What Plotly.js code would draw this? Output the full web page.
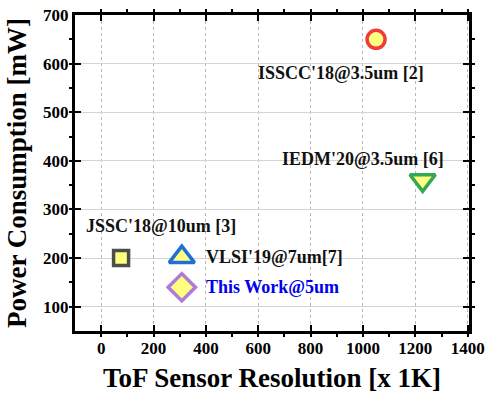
<!DOCTYPE html>
<html>
<head>
<meta charset="utf-8">
<script src="https://cdn.plot.ly/plotly-3.0.1.min.js"></script>
<style>html,body{margin:0;padding:0;background:#fff}#chart{width:486px;height:394px}</style>
</head>
<body>
<div id="chart"></div>
<script>
const names = ["ISSCC'18@3.5um [2]", "IEDM'20@3.5um [6]", "JSSC'18@10um [3]", "VLSI'19@7um[7]", "This Work@5um"];
const resolution = [1050, 1228, 76, 308, 308];
const power = [650, 360, 200, 202, 140];
const symbols = ["circle", "triangle-down", "square", "triangle-up", "diamond"];
const edgeColors = ["#ee3b3b", "#34a853", "#4d4d4d", "#1f6fd6", "#b07ad8"];
const markerSizes = [18, 22, 15, 22, 21];
const labelX = [916, 1000, 228, 393, 393];
const labelY = [581, 404, 266, 203, 140];
const labelAnchor = ["center", "center", "center", "left", "left"];
const labelColors = ["#111111", "#111111", "#111111", "#111111", "#0000ee"];
const xTickVals = [0, 200, 400, 600, 800, 1000, 1200, 1400];
const xTickText = ["0", "200", "400", "600", "800", "1000", "1200", "1400"];
const yTickVals = [100, 200, 300, 400, 500, 600, 700];
const yTickText = ["100", "200", "300", "400", "500", "600", "700"];

const font = "'Liberation Serif', 'Times New Roman', serif";
const traces = names.map((n, i) => ({
  type: "scatter", mode: "markers",
  x: [resolution[i]], y: [power[i]], name: n,
  marker: {symbol: symbols[i], size: markerSizes[i], color: "#ffff7f",
           line: {color: edgeColors[i], width: 3.5}},
  showlegend: false, hoverinfo: "skip"
}));

const annotations = names.map((n, i) => ({
  x: labelX[i], y: labelY[i], xref: "x", yref: "y",
  text: "<b>" + n + "</b>", showarrow: false,
  xanchor: labelAnchor[i], yanchor: "middle",
  font: {family: font, size: 18, color: labelColors[i]}
}));

const axisCommon = {
  showline: true, linecolor: "#000", linewidth: 3, mirror: "ticks",
  ticks: "inside", ticklen: 6, tickwidth: 2, tickcolor: "#000",
  zeroline: false, tickmode: "array",
  tickfont: {family: font, size: 17, color: "#000"}
};

const layout = {
  width: 486, height: 394,
  margin: {l: 75, r: 17, t: 15, b: 63},
  paper_bgcolor: "#fff", plot_bgcolor: "#fff",
  xaxis: Object.assign({}, axisCommon, {
    range: [-100, 1405],
    tickvals: xTickVals, ticktext: xTickText.map(t => "<b>" + t + "</b>"),
    showgrid: true, gridcolor: "#b8b8b8", griddash: "dot", gridwidth: 1,
    minor: {tickmode: "linear", tick0: 0, dtick: 100, ticklen: 3, tickwidth: 2, tickcolor: "#000", showgrid: false},
    title: {text: "<b>ToF Sensor Resolution [x 1K]</b>", standoff: 11,
            font: {family: font, size: 27, color: "#000"}}
  }),
  yaxis: Object.assign({}, axisCommon, {
    range: [50, 700],
    tickvals: yTickVals, ticktext: yTickText.map(t => "<b>" + t + "</b>"),
    showgrid: true, gridcolor: "#d4d4d4", gridwidth: 1,
    minor: {tickmode: "linear", tick0: 0, dtick: 50, ticklen: 3, tickwidth: 2, tickcolor: "#000", showgrid: false},
    title: {text: "<b>Power Consumption [mW]</b>", standoff: 9,
            font: {family: font, size: 27, color: "#000"}}
  }),
  annotations: annotations
};

Plotly.newPlot("chart", traces, layout, {displayModeBar: false, staticPlot: true});
</script>
</body>
</html>
